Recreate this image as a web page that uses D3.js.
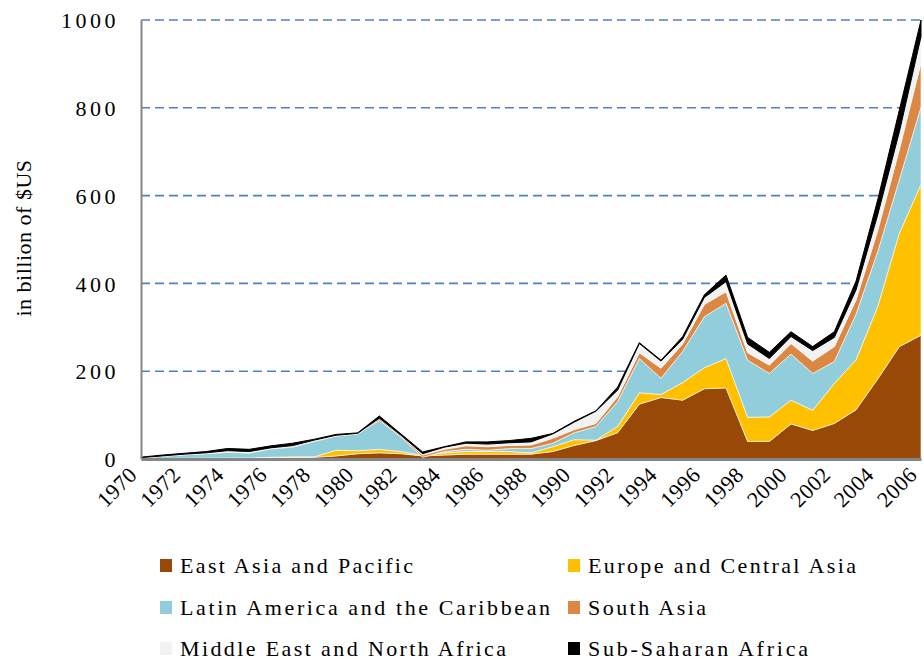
<!DOCTYPE html>
<html>
<head>
<meta charset="utf-8">
<script src="https://cdnjs.cloudflare.com/ajax/libs/d3/7.8.5/d3.min.js"></script>
<style>
  body { margin: 0; background: #fff; }
  text { font-family: "Liberation Serif", "Times New Roman", serif; fill: #000; }
</style>
</head>
<body>
<div id="chart"></div>
<script>
// private capital flows by region, billion $US
var years = [1970, 1971, 1972, 1973, 1974, 1975, 1976, 1977, 1978, 1979,
             1980, 1981, 1982, 1983, 1984, 1985, 1986, 1987, 1988, 1989,
             1990, 1991, 1992, 1993, 1994, 1995, 1996, 1997, 1998, 1999,
             2000, 2001, 2002, 2003, 2004, 2005, 2006];

var eastAsia  = [0.5, 1, 1, 1.5, 2, 2, 3, 3, 4, 7,
                 12, 14, 12, 7, 9, 11, 11, 11, 11, 17,
                 31, 42, 60, 125, 140, 134, 160, 162, 40, 40,
                 80, 65, 81, 112, 182, 256, 282];
var europe    = [0.2, 0.3, 0.5, 0.5, 0.5, 0.5, 1, 2, 1, 13,
                 7, 8, 5, 1, 5, 6, 6, 6, 3, 11,
                 13, 1, 14, 26, 7, 40, 48, 67, 55, 56,
                 54, 46, 91, 114, 165, 258, 344];
var latin     = [2, 5, 8, 10, 13, 11, 19, 22, 35, 32,
                 38, 66, 33, -4, 3, 5, 3, 7, 10, 8,
                 16, 31, 57, 78, 37, 71, 116, 126, 130, 99,
                 105, 84, 50, 104, 125, 122, 176];
var southAsia = [0.2, 0.3, 0.5, 0.5, 1, 1, 1, 1.5, 1.5, 1,
                 1, 4, 3, 5, 5, 8, 8, 7, 8, 11,
                 7, 7, 11, 13, 23, 17, 28, 26, 17, 19,
                 24, 28, 34, 32, 48, 69, 100];
var mena      = [0.3, 0.5, 1, 1.5, 2.5, 2.5, 1.5, 2, 1.5, 1,
                 0.5, 1, 1, 3, 5, 6, 6, 6, 7, 10,
                 17, 28, 15, 21, 16, 11, 16, 23, 20, 15,
                 16, 24, 21, 23, 36, 40, 60];
var subSahara = [1, 2, 2, 3, 5, 5, 4.5, 5.5, 2, 2,
                 1, 5, 3, 4, 1, 3, 5, 5, 8, 1,
                 2, 1, 7, 2, 2, 6, 6, 15, 15, 14,
                 11, 9, 13, 20, 34, 50, 38];

var regionNames = ["East Asia and Pacific", "Europe and Central Asia",
                   "Latin America and the Caribbean", "South Asia",
                   "Middle East and North Africa", "Sub-Saharan Africa"];
var regionColors = ["#984807", "#FFC000", "#92CDDC", "#DC8844", "#F2F2F2", "#000000"];

var xTickYears = [1970, 1972, 1974, 1976, 1978, 1980, 1982, 1984, 1986, 1988,
                  1990, 1992, 1994, 1996, 1998, 2000, 2002, 2004, 2006];
var yTicks = [0, 200, 400, 600, 800, 1000];

var width = 924, height = 662;
var plot = {left: 141, right: 921, top: 20, bottom: 459};

var svg = d3.select("#chart").append("svg")
    .attr("width", width)
    .attr("height", height);

var x = d3.scaleLinear().domain([1970, 2006]).range([plot.left, plot.right]);
var y = d3.scaleLinear().domain([0, 1000]).range([plot.bottom, plot.top]);

// rows for the stack
var seriesList = [eastAsia, europe, latin, southAsia, mena, subSahara];
var rows = years.map(function(yr, i) {
    var r = {year: yr};
    regionNames.forEach(function(name, k) { r[name] = seriesList[k][i]; });
    return r;
});

var stacked = d3.stack().keys(regionNames)(rows);

// dashed gridlines
svg.append("g").selectAll("line")
    .data(yTicks.filter(function(d) { return d > 0; }))
    .enter().append("line")
    .attr("x1", plot.left)
    .attr("x2", plot.right)
    .attr("y1", function(d) { return y(d); })
    .attr("y2", function(d) { return y(d); })
    .attr("stroke", "#4F81BD")
    .attr("stroke-width", 1.6)
    .attr("stroke-dasharray", "9,5");

var area = d3.area()
    .x(function(d) { return x(d.data.year); })
    .y0(function(d) { return y(d[0]); })
    .y1(function(d) { return y(d[1]); });

svg.append("g").selectAll("path")
    .data(stacked)
    .enter().append("path")
    .attr("d", area)
    .attr("fill", function(d, i) { return regionColors[i]; })
    .attr("stroke", function(d, i) { return i == 5 ? "#000" : "#fff"; })
    .attr("stroke-width", function(d, i) { return i == 5 ? 1 : 0.6; })
    .attr("stroke-linejoin", "round");

// y axis
var yAxis = d3.axisLeft(y).tickValues(yTicks).tickFormat(d3.format("d"))
    .tickSize(0).tickPadding(22);
var gy = svg.append("g")
    .attr("transform", "translate(" + plot.left + ",0)")
    .call(yAxis);
gy.select(".domain").attr("stroke", "#868686").attr("stroke-width", 2);
gy.selectAll("text")
    .style("font-family", "Liberation Serif")
    .style("font-size", "22px")
    .style("letter-spacing", "3.5px")
    .attr("dy", "0.35em");

// x axis, labels slanted
var xAxis = d3.axisBottom(x).tickValues(xTickYears).tickFormat(d3.format("d")).tickSize(0);
var gx = svg.append("g")
    .attr("transform", "translate(0," + plot.bottom + ")")
    .call(xAxis);
gx.attr("text-anchor", "end");
gx.select(".domain").attr("stroke", "#868686").attr("stroke-width", 3);
gx.selectAll("text")
    .style("font-family", "Liberation Serif")
    .style("font-size", "22px")
    .style("letter-spacing", "0.5px")
    .style("text-anchor", "end")
    .attr("y", 0)
    .attr("dy", 0)
    .attr("transform", "translate(-3,17) rotate(-45)");

// y axis title
svg.append("text")
    .attr("transform", "translate(31,238) rotate(-90)")
    .attr("text-anchor", "middle")
    .style("font-size", "22px")
    .style("letter-spacing", "0.5px")
    .text("in billion of $US");

// legend
var legendX = [160, 568];
var legendY = [573, 615, 656];
var legendWidths = [233, 268, 370, 118, 326, 220];

var legend = svg.append("g").selectAll("g")
    .data(regionNames)
    .enter().append("g")
    .attr("transform", function(d, i) {
        return "translate(" + legendX[i % 2] + "," + legendY[Math.floor(i / 2)] + ")";
    });

legend.append("rect")
    .attr("x", 0)
    .attr("y", -14)
    .attr("width", 12)
    .attr("height", 13)
    .attr("fill", function(d, i) { return regionColors[i]; });

legend.append("text")
    .attr("x", 20)
    .attr("y", 0)
    .style("font-size", "22px")
    .attr("textLength", function(d, i) { return legendWidths[i]; })
    .attr("lengthAdjust", "spacing")
    .text(function(d) { return d; });
</script>
</body>
</html>
